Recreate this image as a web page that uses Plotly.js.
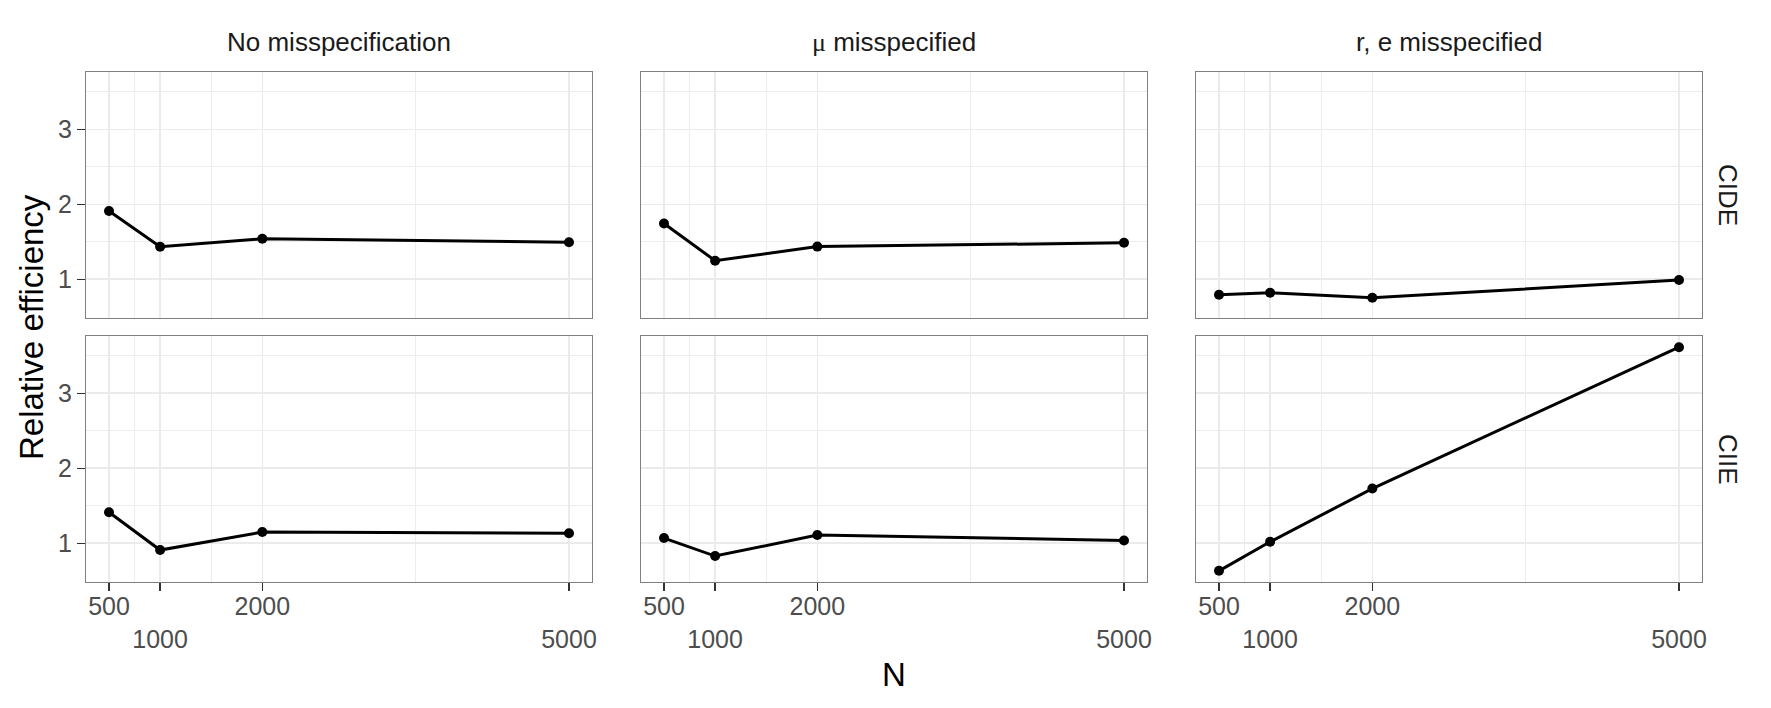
<!DOCTYPE html>
<html>
<head>
<meta charset="utf-8">
<script src="https://cdn.plot.ly/plotly-3.0.1.min.js"></script>
<style>
  body { margin: 0; background: #fff; }
  #chart { width: 1771px; height: 708px; }
</style>
</head>
<body>
<div id="chart"></div>
<script>
// sample sizes on the x axis, staggered labels like ggplot's n.dodge = 2
var sampleSizes = [500, 1000, 2000, 5000];
var sizeLabels = ['500', '<br>1000', '2000', '<br>5000'];

var scenarios = [
  'No misspecification',
  '<span style="font-family:\'Liberation Serif\'">μ</span> misspecified',
  'r, e misspecified'
];
var effects = ['CIDE', 'CIIE'];

// relative efficiency
var noMisCIDE = [1.91, 1.435, 1.54, 1.495];
var noMisCIIE = [1.415, 0.91, 1.15, 1.135];
var muMisCIDE = [1.745, 1.248, 1.436, 1.487];
var muMisCIIE = [1.07, 0.83, 1.11, 1.038];
var reMisCIDE = [0.795, 0.82, 0.753, 0.99];
var reMisCIIE = [0.633, 1.02, 1.73, 3.615];

var seriesByPanel = [
  [noMisCIDE, muMisCIDE, reMisCIDE],
  [noMisCIIE, muMisCIIE, reMisCIIE]
];

var W = 1771, H = 708;
var colPx = [[86, 592], [641, 1147], [1196, 1702]];
var rowPx = [[72, 318], [336, 582]];
var font = 'Liberation Sans, Arial, sans-serif';

var data = [];
var layout = {
  width: W, height: H,
  margin: { l: 0, r: 0, t: 0, b: 0 },
  paper_bgcolor: '#fff', plot_bgcolor: '#fff',
  showlegend: false,
  font: { family: font, color: '#4D4D4D' },
  annotations: []
};

for (var r = 0; r < 2; r++) {
  for (var c = 0; c < 3; c++) {
    var k = r * 3 + c + 1;
    data.push({
      x: sampleSizes,
      y: seriesByPanel[r][c],
      xaxis: 'x' + k, yaxis: 'y' + k,
      type: 'scatter', mode: 'lines+markers',
      line: { color: '#000', width: 3 },
      marker: { color: '#000', size: 10 },
      hoverinfo: 'x+y'
    });
    var bottom = r === 1, left = c === 0;
    layout['xaxis' + k] = {
      domain: [colPx[c][0] / W, colPx[c][1] / W],
      anchor: 'y' + k,
      range: [275, 5225],
      tickmode: 'array', tickvals: sampleSizes, ticktext: sizeLabels,
      showticklabels: bottom, ticklabelstandoff: -6,
      ticks: bottom ? 'outside' : '', ticklen: 8, tickwidth: 1.5, tickcolor: '#333',
      tickfont: { size: 25, color: '#4D4D4D', family: font },
      showgrid: true, gridcolor: '#EBEBEB', gridwidth: 1.6,
      minor: { tickvals: [750, 1500, 3500], showgrid: true, gridcolor: '#EBEBEB', gridwidth: 0.9, ticks: '' },
      showline: true, mirror: true, linecolor: '#808080', linewidth: 1.2,
      zeroline: false, fixedrange: true
    };
    layout['yaxis' + k] = {
      domain: [1 - rowPx[r][1] / H, 1 - rowPx[r][0] / H],
      anchor: 'x' + k,
      range: [0.484, 3.764],
      tickmode: 'array', tickvals: [1, 2, 3],
      showticklabels: left,
      ticks: left ? 'outside' : '', ticklen: 8, tickwidth: 1.5, tickcolor: '#333',
      tickfont: { size: 25, color: '#4D4D4D', family: font },
      showgrid: true, gridcolor: '#EBEBEB', gridwidth: 1.6,
      minor: { tickvals: [1.5, 2.5, 3.5], showgrid: true, gridcolor: '#EBEBEB', gridwidth: 0.9, ticks: '' },
      showline: true, mirror: true, linecolor: '#808080', linewidth: 1.2,
      zeroline: false, fixedrange: true
    };
  }
}

// facet strip labels: columns on top, rows on the right
for (var c = 0; c < 3; c++) {
  layout.annotations.push({
    text: scenarios[c], xref: 'paper', yref: 'paper',
    x: (colPx[c][0] + colPx[c][1]) / 2 / W, y: 1 - 42 / H,
    xanchor: 'center', yanchor: 'middle', showarrow: false,
    font: { size: 26, color: '#1A1A1A', family: font }
  });
}
for (var r = 0; r < 2; r++) {
  layout.annotations.push({
    text: effects[r], xref: 'paper', yref: 'paper',
    x: 1728 / W, y: 1 - (rowPx[r][0] + rowPx[r][1]) / 2 / H,
    xanchor: 'center', yanchor: 'middle', showarrow: false, textangle: 90,
    font: { size: 26, color: '#1A1A1A', family: font }
  });
}

// shared axis titles
layout.annotations.push({
  text: 'Relative efficiency', xref: 'paper', yref: 'paper',
  x: 31 / W, y: 1 - 327 / H, xanchor: 'center', yanchor: 'middle',
  showarrow: false, textangle: -90,
  font: { size: 33, color: '#000', family: font }
});
layout.annotations.push({
  text: 'N', xref: 'paper', yref: 'paper',
  x: 894 / W, y: 1 - 674 / H, xanchor: 'center', yanchor: 'middle',
  showarrow: false,
  font: { size: 33, color: '#000', family: font }
});

Plotly.newPlot('chart', data, layout, { displayModeBar: false, staticPlot: true });
</script>
</body>
</html>
